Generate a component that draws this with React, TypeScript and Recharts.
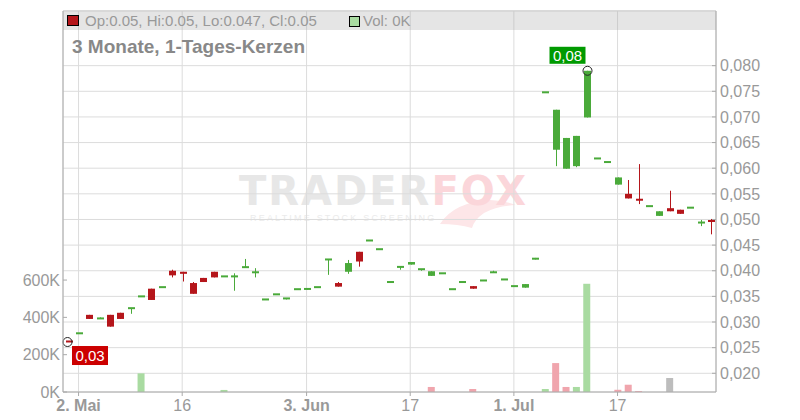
import React from 'react';
import { ComposedChart, Bar, XAxis, YAxis, CartesianGrid, Cell } from 'recharts';

// trading days, 63 candles
const dates = [
  '30.04', '02.05', '03.05', '06.05', '07.05', '08.05', '09.05', '10.05', '13.05', '14.05',
  '15.05', '16.05', '17.05', '20.05', '21.05', '22.05', '23.05', '24.05', '27.05', '28.05',
  '29.05', '30.05', '31.05', '03.06', '04.06', '05.06', '06.06', '07.06', '10.06', '11.06',
  '12.06', '13.06', '14.06', '17.06', '18.06', '19.06', '20.06', '21.06', '24.06', '25.06',
  '26.06', '27.06', '28.06', '01.07', '02.07', '03.07', '05.07', '08.07', '09.07', '10.07',
  '11.07', '15.07', '16.07', '17.07', '18.07', '19.07', '22.07', '23.07', '24.07', '25.07',
  '26.07', '29.07', '30.07',
];

const opens = [
  0.0263, 0.0278, 0.0314, 0.0307, 0.0314, 0.0318, 0.0327, 0.0350, 0.0365, 0.0368,
  0.0400, 0.0398, 0.0376, 0.0386, 0.0398, 0.0389, 0.0389, 0.0407, 0.0397, 0.0344,
  0.0354, 0.0346, 0.0364, 0.0363, 0.0368, 0.0422, 0.0376, 0.0398, 0.0437, 0.0459,
  0.0442, 0.0378, 0.0406, 0.0412, 0.0403, 0.0390, 0.0395, 0.0364, 0.0378, 0.0370,
  0.0381, 0.0397, 0.0383, 0.0370, 0.0367, 0.0422, 0.0748, 0.0636, 0.0599, 0.0604,
  0.0699, 0.0619, 0.0612, 0.0568, 0.0550, 0.0540, 0.0526, 0.0507, 0.0522, 0.0519,
  0.0523, 0.0494, 0.0498,
];

const highs = [
  0.0263, 0.0278, 0.0314, 0.0309, 0.0314, 0.0318, 0.0327, 0.0350, 0.0365, 0.0368,
  0.0402, 0.0398, 0.0378, 0.0386, 0.0398, 0.0389, 0.0395, 0.0423, 0.0405, 0.0344,
  0.0354, 0.0346, 0.0364, 0.0366, 0.0368, 0.0422, 0.0378, 0.0421, 0.0437, 0.0459,
  0.0442, 0.0378, 0.0409, 0.0417, 0.0403, 0.0399, 0.0395, 0.0364, 0.0378, 0.0370,
  0.0381, 0.0400, 0.0383, 0.0370, 0.0374, 0.0425, 0.0748, 0.0714, 0.0659, 0.0663,
  0.0790, 0.0619, 0.0612, 0.0582, 0.0577, 0.0608, 0.0526, 0.0516, 0.0556, 0.0519,
  0.0523, 0.0499, 0.0501,
];

const lows = [
  0.0261, 0.0278, 0.0306, 0.0307, 0.0291, 0.0306, 0.0316, 0.0350, 0.0343, 0.0368,
  0.0387, 0.0379, 0.0355, 0.0378, 0.0387, 0.0389, 0.0361, 0.0407, 0.0387, 0.0344,
  0.0354, 0.0344, 0.0364, 0.0363, 0.0368, 0.0392, 0.0369, 0.0394, 0.0408, 0.0459,
  0.0442, 0.0378, 0.0402, 0.0412, 0.0400, 0.0390, 0.0395, 0.0364, 0.0378, 0.0365,
  0.0381, 0.0397, 0.0383, 0.0370, 0.0367, 0.0422, 0.0748, 0.0604, 0.0599, 0.0602,
  0.0699, 0.0619, 0.0612, 0.0568, 0.0541, 0.0530, 0.0526, 0.0507, 0.0516, 0.0511,
  0.0523, 0.0487, 0.0471,
];

const closes = [
  0.0261, 0.0278, 0.0306, 0.0307, 0.0291, 0.0306, 0.0327, 0.0350, 0.0343, 0.0368,
  0.0391, 0.0394, 0.0355, 0.0378, 0.0387, 0.0389, 0.0389, 0.0407, 0.0397, 0.0344,
  0.0354, 0.0346, 0.0364, 0.0366, 0.0368, 0.0422, 0.0369, 0.0415, 0.0418, 0.0459,
  0.0442, 0.0378, 0.0409, 0.0417, 0.0403, 0.0399, 0.0395, 0.0364, 0.0378, 0.0365,
  0.0381, 0.0397, 0.0383, 0.0370, 0.0374, 0.0425, 0.0748, 0.0714, 0.0659, 0.0663,
  0.0790, 0.0619, 0.0612, 0.0582, 0.0541, 0.0537, 0.0526, 0.0516, 0.0516, 0.0511,
  0.0523, 0.0494, 0.0496,
];

const volumes = [
  0, 0, 0, 0, 0, 0, 0, 100000, 0, 0,
  0, 0, 0, 0, 0, 11000, 0, 0, 0, 0,
  0, 0, 0, 0, 0, 0, 0, 0, 0, 0,
  0, 0, 0, 0, 0, 27000, 0, 0, 0, 16000,
  0, 0, 0, 0, 0, 0, 16000, 155000, 27000, 27000,
  580000, 0, 0, 12000, 39000, 5000, 0, 0, 75000, 0,
  0, 0, 0,
];

const xTicks = ['02.05', '16.05', '03.06', '17.06', '01.07', '17.07'];
const xTickLabels = ['2. Mai', '16', '3. Jun', '17', '1. Jul', '17'];
const monthTicks = ['02.05', '03.06', '01.07'];
const priceTicks = [0.02, 0.025, 0.03, 0.035, 0.04, 0.045, 0.05, 0.055, 0.06, 0.065, 0.07, 0.075, 0.08];
const volumeTicks = [0, 200000, 400000, 600000];

const PRICE_MIN = 0.01635;
const PRICE_MAX = 0.09066;
const VOL_MAX = 2042000;

const FONT = '"Liberation Sans", Arial, sans-serif';
const UP = '#4aaa3a';
const DOWN = '#b5161b';
const VOL_UP = '#a9dba1';
const VOL_DOWN = '#f0a5ad';
const VOL_FLAT = '#bdbdbd';

const data = dates.map((date, i) => ({
  date,
  open: opens[i],
  high: highs[i],
  low: lows[i],
  close: closes[i],
  volume: volumes[i],
}));

const maxIdx = highs.indexOf(Math.max(...highs));
const minIdx = lows.indexOf(Math.min(...lows));

const volColor = (i: number) => {
  if (i === 0 || closes[i] > closes[i - 1]) return VOL_UP;
  if (closes[i] < closes[i - 1]) return VOL_DOWN;
  return VOL_FLAT;
};

const fmtPrice = (v: number) => v.toFixed(3).replace('.', ',');

const Candle = (props: any) => {
  const { x, y, width, height, index } = props;
  const o = opens[index];
  const h = highs[index];
  const l = lows[index];
  const c = closes[index];
  // bar spans PRICE_MIN..high, so height gives the pixel scale
  const k = height / (h - PRICE_MIN);
  const py = (v: number) => y + (h - v) * k;
  const cx = Math.round(x + width / 2) + 0.5;
  const color = c >= o ? UP : DOWN;
  let top = py(Math.max(o, c));
  let bot = py(Math.min(o, c));
  if (bot - top < 2) {
    const mid = (top + bot) / 2;
    top = mid - 1;
    bot = mid + 1;
  }
  return (
    <g>
      <line x1={cx} x2={cx} y1={py(h)} y2={py(l)} stroke={color} strokeWidth={1} />
      <rect x={cx - 3.5} y={top} width={7} height={bot - top} fill={color} />
      {index === maxIdx && (
        <g>
          <rect x={cx - 38} y={py(h) - 24} width={36} height={17} fill="#009a00" />
          <text x={cx - 20} y={py(h) - 15.5} dy="0.355em" textAnchor="middle" fontSize={15} fontFamily={FONT} fill="#fff">
            {h.toFixed(2).replace('.', ',')}
          </text>
          <circle cx={cx} cy={py(h)} r={4.5} fill="none" stroke="#222" strokeWidth={1} />
        </g>
      )}
      {index === minIdx && (
        <g>
          <rect x={cx + 2.5} y={py(l) + 4} width={36} height={19} fill="#cc0000" />
          <text x={cx + 20.5} y={py(l) + 13.5} dy="0.355em" textAnchor="middle" fontSize={15} fontFamily={FONT} fill="#fff">
            {l.toFixed(2).replace('.', ',')}
          </text>
          <circle cx={cx - 2} cy={py(l)} r={4.5} fill="none" stroke="#222" strokeWidth={1} />
        </g>
      )}
    </g>
  );
};

const XTick = (props: any) => {
  const { x, y, payload } = props;
  const i = xTicks.indexOf(payload.value);
  const bold = monthTicks.includes(payload.value);
  return (
    <g>
      <line x1={x} x2={x} y1={y - 8} y2={y - 4} stroke="#aaa" />
      <text x={x} y={y} dy="0.71em" textAnchor="middle" fontSize={16} fontFamily={FONT}
        fontWeight={bold ? 'bold' : 'normal'} fill="#999">
        {xTickLabels[i]}
      </text>
    </g>
  );
};

const PriceTick = (props: any) => {
  const { x, y, payload } = props;
  return (
    <g>
      <line x1={x - 8} x2={x - 4} y1={y} y2={y} stroke="#aaa" />
      <text x={x} y={y} dy="0.355em" textAnchor="start" fontSize={16} fontFamily={FONT} fill="#999">
        {fmtPrice(payload.value)}
      </text>
    </g>
  );
};

const VolTick = (props: any) => {
  const { x, y, payload } = props;
  return (
    <g>
      <line x1={x + 3} x2={x + 7} y1={y} y2={y} stroke="#aaa" />
      <text x={x} y={y} dy="0.355em" textAnchor="end" fontSize={16} fontFamily={FONT} fill="#999">
        {payload.value / 1000 + 'K'}
      </text>
    </g>
  );
};

export default function App() {
  const last = data[data.length - 1];
  return (
    <div style={{ position: 'absolute', left: 0, top: 0, width: 800, height: 420, fontFamily: FONT, background: '#fff' }}>
      {/* watermark */}
      <svg style={{ position: 'absolute', left: 0, top: 0 }} width={800} height={420}>
        <path d="M 440 224 Q 454 202 490 200 Q 506 201 516 205 Q 496 206 484 213 Q 474 220 472 228 Q 458 224 440 224 Z" fill="#fde6e8" />
      </svg>
      <div style={{ position: 'absolute', left: 239, top: 169, whiteSpace: 'nowrap' }}>
        <div style={{ fontSize: 40, fontFamily: '"DejaVu Sans", sans-serif', fontWeight: 'bold', letterSpacing: 2, lineHeight: '44px' }}>
          <span style={{ color: '#e7e7e7' }}>TRADER</span>
          <span style={{ color: '#fbd6da' }}>FOX</span>
        </div>
        <div style={{ fontSize: 9, letterSpacing: 2.2, color: '#ebebeb', marginLeft: 11, marginTop: 0 }}>
          REALTIME STOCK SCREENING
        </div>
      </div>

      <ComposedChart width={800} height={420} data={data} margin={{ top: 11, right: 0, bottom: 0, left: 8 }}>
        <CartesianGrid xAxisId="x" yAxisId="price" stroke="#dcdcdc" />
        <XAxis xAxisId="v" dataKey="date" hide height={0} />
        <XAxis xAxisId="x" dataKey="date" ticks={xTicks} interval={0} tick={<XTick />}
          tickSize={4} tickMargin={4} tickLine={false} axisLine={{ stroke: '#aaa' }} height={28} />
        <YAxis yAxisId="vol" orientation="left" width={55} domain={[0, VOL_MAX]} ticks={volumeTicks}
          allowDataOverflow interval={0} tick={<VolTick />} tickSize={3} tickMargin={0} tickLine={false}
          axisLine={{ stroke: '#aaa' }} />
        <YAxis yAxisId="price" orientation="right" width={84} domain={[PRICE_MIN, PRICE_MAX]} ticks={priceTicks}
          allowDataOverflow interval={0} tick={<PriceTick />} tickSize={4} tickMargin={0} tickLine={false}
          axisLine={{ stroke: '#aaa' }} />
        <Bar xAxisId="v" yAxisId="vol" dataKey="volume" barSize={7} isAnimationActive={false}>
          {data.map((d, i) => (
            <Cell key={d.date} fill={volColor(i)} />
          ))}
        </Bar>
        <Bar xAxisId="x" yAxisId="price" dataKey={(d: any) => [PRICE_MIN, d.high]} barSize={7}
          shape={Candle} isAnimationActive={false} />
      </ComposedChart>

      {/* header band */}
      <div style={{ position: 'absolute', left: 63, top: 10, width: 653, height: 20, background: 'rgba(170,170,170,0.3)' }} />
      <div style={{ position: 'absolute', left: 67, top: 15, width: 10, height: 9, background: DOWN, border: '1px solid #000' }} />
      <div style={{ position: 'absolute', left: 85, top: 12, fontSize: 15, color: '#999', whiteSpace: 'nowrap' }}>
        {`Op:${last.open.toFixed(2)}, Hi:${last.high.toFixed(2)}, Lo:${last.low.toFixed(3)}, Cl:${last.close.toFixed(2)}`}
      </div>
      <div style={{ position: 'absolute', left: 349, top: 16, width: 9, height: 9, background: VOL_UP, border: '1px solid #000' }} />
      <div style={{ position: 'absolute', left: 363, top: 12, fontSize: 15, color: '#999', whiteSpace: 'nowrap' }}>
        {`Vol: ${Math.round(last.volume / 1000)}K`}
      </div>
      <div style={{ position: 'absolute', left: 72, top: 36, fontSize: 19, fontWeight: 'bold', color: '#888', whiteSpace: 'nowrap' }}>
        3 Monate, 1-Tages-Kerzen
      </div>
    </div>
  );
}
